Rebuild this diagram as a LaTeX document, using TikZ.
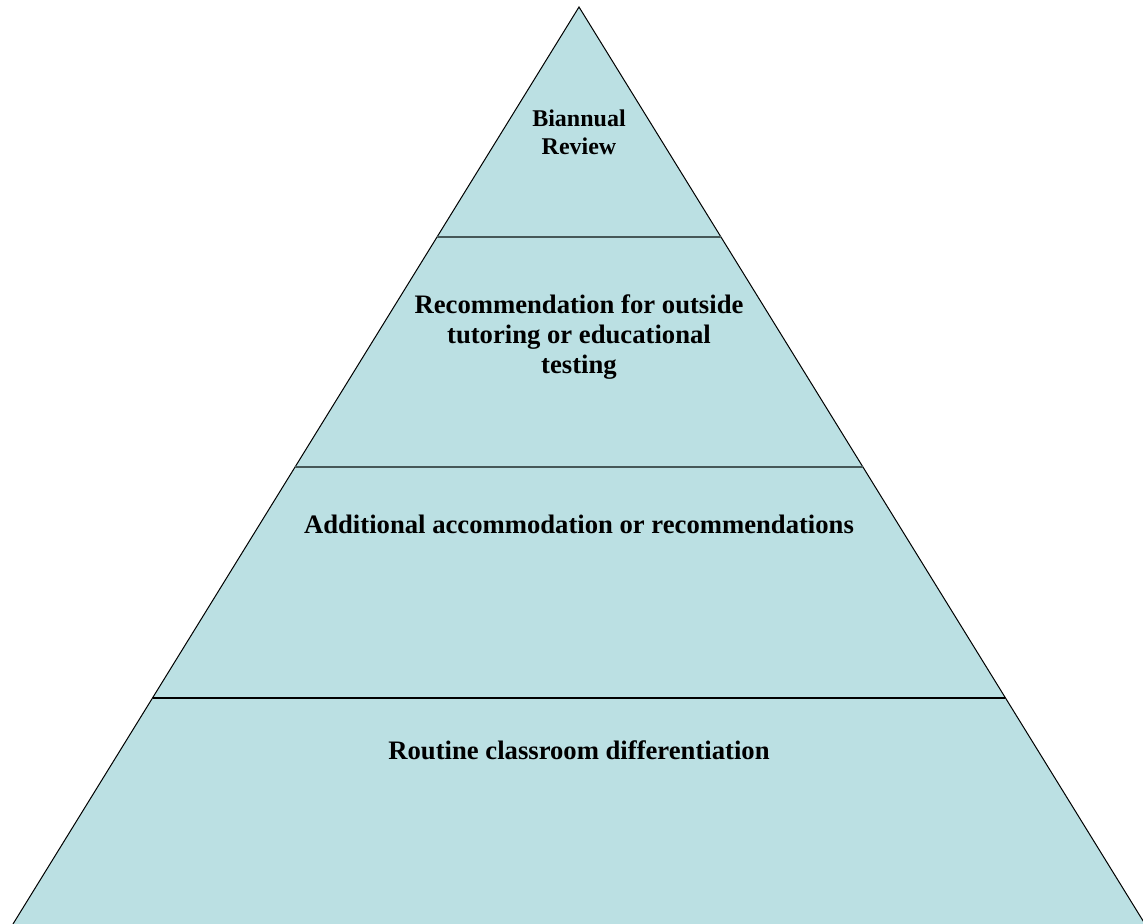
\documentclass[tikz,border=0pt]{standalone}
\usepackage{fontspec}
\setmainfont{Liberation Serif}
\usepackage{tikz}
\usetikzlibrary{calc}
\definecolor{pyrfill}{RGB}{187,224,227}
\definecolor{bandgray}{RGB}{70,88,88}
\tikzset{
	pyrlabel/.style={align=center, font=\bfseries\fontsize{20}{22.5}\selectfont, inner sep=0pt},
	toplabel/.style={pyrlabel, font=\bfseries\fontsize{18}{21}\selectfont},
}

\begin{document}
\begin{tikzpicture}[x=0.75pt, y=-0.75pt]
			%%%%% START %%%%%
			\useasboundingbox (0, 0) rectangle (1143, 924);
			
			\coordinate (apex) at (579, 7);
			\coordinate (baseL) at (13, 924);
			\coordinate (baseR) at (1145, 924);
			
			\draw[fill=pyrfill, line width=0.75pt] (baseL) -- (apex) -- (baseR);
			
			\draw[line width=1.6pt, color=bandgray] ($(apex)!0.2508!(baseL)$) -- ($(apex)!0.2508!(baseR)$);
			\draw[line width=1.6pt, color=bandgray] ($(apex)!0.5016!(baseL)$) -- ($(apex)!0.5016!(baseR)$);
			\draw[line width=1.6pt, color=black] ($(apex)!0.7535!(baseL)$) -- ($(apex)!0.7535!(baseR)$);
			
			\node[toplabel] (review) at (579, 132) {Biannual\\Review};
			\node[pyrlabel] (outside) at (579, 337) {Recommendation for outside\\tutoring or educational\\testing};
			\node[pyrlabel] (accom) at (579, 524) {Additional accommodation or recommendations};
			\node[pyrlabel] (routine) at (579, 750) {Routine classroom differentiation};
			
			%%%%% END %%%%%
\end{tikzpicture}
\end{document}
